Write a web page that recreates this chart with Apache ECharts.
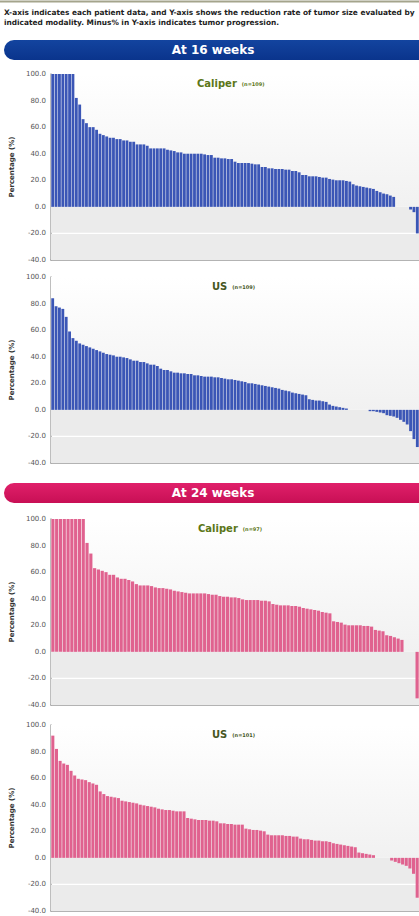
<!DOCTYPE html>
<html>
<head>
<meta charset="utf-8">
<script src="https://cdn.jsdelivr.net/npm/echarts@6/dist/echarts.min.js"></script>
<style>
  html, body { margin: 0; padding: 0; background: #fff; }
  #chart { width: 419px; height: 916px; }
</style>
</head>
<body>
<div id="chart"></div>
<script>
// reduction rate (%) per patient, sorted descending
const caliper16 = [100, 100, 100, 100, 100, 100, 100, 82, 77, 66, 63, 60, 60, 58, 55, 54, 53, 52, 52, 51,
  51, 50, 50, 49, 49, 47, 47, 47, 46, 44, 44, 44, 44, 44, 43, 42.5, 42, 41, 41, 40,
  40, 40, 40, 40, 40, 39.5, 39, 39, 37, 37, 36.5, 36.5, 36, 36, 34, 33, 33, 33, 33, 32.5,
  32, 32, 30, 30, 29, 29, 28.5, 28.5, 28.5, 28, 28, 27, 27, 26, 24, 24, 23, 23, 23, 22.5,
  22, 22, 21, 20.5, 20, 20, 20, 19.5, 19, 17, 16, 15.5, 15, 14.5, 14, 13.5, 12, 11, 10, 9.5,
  8.5, 7.5, 0, 0, 0, 0, -2, -4, -20]
const us16 = [84, 78, 77, 76, 70, 59, 54, 52, 50, 49, 48, 47, 46, 45, 44, 43, 42, 41.5, 41, 40,
  40, 39.5, 39, 38, 37, 37, 36, 36, 35, 34, 34, 33, 31, 30, 30, 29, 28, 28, 27.5, 27.5,
  27, 27, 26, 26, 25.5, 25, 25, 25, 24.5, 24.5, 24, 23.5, 23, 23, 22.5, 22, 21.5, 21, 20, 20,
  19.5, 19, 18.5, 18, 17.5, 17, 16.5, 16, 15, 14.5, 14, 13, 12.5, 12, 11.5, 11, 8, 7.5, 7, 7,
  6.5, 6, 4, 3, 2.5, 2, 1.5, 1, 0, 0, 0, 0, 0, 0, -1, -1, -1.5, -2, -2.5, -4,
  -4.5, -5, -6, -7.5, -9, -11, -16, -22, -28]
const caliper24 = [100, 100, 100, 100, 100, 100, 100, 100, 100, 82, 74, 63, 62, 61, 60, 58, 58, 56, 55, 55,
  54, 53, 51, 50, 50, 50, 49.5, 48.5, 48, 48, 47.5, 47, 46, 45.5, 45, 44.5, 44, 44, 44, 44,
  44, 43.5, 43, 43, 42, 41.5, 41.5, 41, 41, 40.5, 39.5, 39, 39, 39, 39, 38.5, 38.5, 38, 36, 35.5,
  35, 35, 35, 34.5, 34.5, 34, 33, 32.5, 32, 31.5, 31, 30, 29.5, 29, 23, 22.5, 22, 20.5, 20, 20,
  20, 20, 19.5, 19.5, 19, 16.5, 16, 15.5, 12.5, 12, 11, 10, 9, 0, 0, 0, -35]
const us24 = [92, 82, 73, 71, 70, 65.5, 62, 59.5, 59, 58.5, 57, 56, 55, 50, 48, 46.5, 46, 45.5, 45, 43,
  42.5, 42, 41.5, 41, 40, 39.5, 39, 38.5, 38, 37, 36.5, 36, 36, 35.5, 35, 35, 35, 30, 29.5, 29,
  28.5, 28.5, 28.5, 28, 28, 27.5, 26, 26, 25.5, 25.5, 25, 25, 25, 22, 21.5, 21, 21, 20.5, 20, 17.5,
  17, 17, 17, 17, 16.5, 16.5, 16, 16, 14.5, 14, 14, 13.5, 13, 13, 12.5, 12.5, 12, 11, 10.5, 10,
  9.5, 9, 8.5, 8, 4, 3.5, 3, 2.5, 2, 0, 0, 0, 0, -2, -3, -4, -5, -6, -8, -12,
  -30]

const panels = [
  { name: 'Caliper', n: '(n=109)', data: caliper16, color: '#3b56b6', top: 74, titleX: 197, nameColor: '#5b7618' },
  { name: 'US', n: '(n=109)', data: us16, color: '#3b56b6', top: 277, titleX: 212, nameColor: '#46561e' },
  { name: 'Caliper', n: '(n=97)', data: caliper24, color: '#e0628f', top: 519, titleX: 198, nameColor: '#5b7618' },
  { name: 'US', n: '(n=101)', data: us24, color: '#e0628f', top: 725, titleX: 212, nameColor: '#46561e' },
]
const PLOT_H = 186
const FONT = '"DejaVu Sans", Verdana, sans-serif'

const chart = echarts.init(document.getElementById('chart'), null, { renderer: 'svg' })

const grids = [], xAxes = [], yAxes = [], series = [], titles = []
panels.forEach((p, i) => {
  grids.push({ left: 51, right: 0, top: p.top, height: PLOT_H })
  xAxes.push({
    type: 'category',
    gridIndex: i,
    data: p.data.map((_, k) => k + 1),
    axisLine: { onZero: false, lineStyle: { color: '#9a9a9a', width: 1.5 } },
    axisTick: { show: false },
    axisLabel: { show: false },
  })
  yAxes.push({
    type: 'value',
    gridIndex: i,
    min: -40,
    max: 100,
    interval: 20,
    name: 'Percentage (%)',
    nameLocation: 'middle',
    nameGap: 36,
    nameTextStyle: { color: '#333', fontSize: 7, fontWeight: 'bold', fontFamily: FONT },
    axisLine: { show: true, lineStyle: { color: '#a8a8a8', width: 1.5 } },
    axisTick: { show: false },
    axisLabel: {
      color: '#555', fontSize: 7, fontFamily: FONT, margin: 5,
      formatter: v => v.toFixed(1),
    },
    splitLine: { show: false },
  })
  // background: grey below zero (with a pale break at -20), faint gradient above
  series.push({
    type: 'line',
    xAxisIndex: i,
    yAxisIndex: i,
    data: [],
    z: 1,
    silent: true,
    markArea: {
      silent: true,
      data: [
        [{ yAxis: -40, itemStyle: { color: '#ebebeb' } }, { yAxis: -20.5 }],
        [{ yAxis: -19.5, itemStyle: { color: '#ebebeb' } }, { yAxis: 0 }],
        [{
          yAxis: 0,
          itemStyle: {
            color: new echarts.graphic.LinearGradient(0, 0, 0, 1, [
              { offset: 0, color: '#ffffff' },
              { offset: 1, color: '#f1f1f1' },
            ]),
          },
        }, { yAxis: 100 }],
      ],
    },
  })
  series.push({
    type: 'bar',
    xAxisIndex: i,
    yAxisIndex: i,
    data: p.data,
    z: 3,
    barCategoryGap: '16%',
    itemStyle: { color: p.color },
  })
  titles.push({
    left: p.titleX,
    top: p.top,
    padding: 0,
    text: `{a|${p.name}} {b|${p.n}}`,
    textStyle: {
      rich: {
        a: { fontSize: 10, fontWeight: 'bold', color: p.nameColor, fontFamily: FONT },
        b: { fontSize: 5, color: p.nameColor, fontFamily: FONT, padding: [2, 0, 0, 0] },
      },
    },
  })
})

const banner = (y, text, c1, c2) => ({
  type: 'group',
  children: [
    {
      type: 'rect',
      shape: { x: 4, y: y, width: 440, height: 20, r: 10 },
      style: {
        fill: new echarts.graphic.LinearGradient(0, 0, 0, 1, [
          { offset: 0, color: c1 },
          { offset: 1, color: c2 },
        ]),
      },
    },
    {
      type: 'text',
      x: 213,
      y: y + 10,
      style: {
        text: text,
        fill: '#fff',
        font: `bold 12px ${FONT}`,
        align: 'center',
        verticalAlign: 'middle',
      },
    },
  ],
})

chart.setOption({
  animation: false,
  backgroundColor: '#fff',
  title: titles,
  grid: grids,
  xAxis: xAxes,
  yAxis: yAxes,
  series: series,
  graphic: [
    { type: 'line', shape: { x1: 0, y1: 1.5, x2: 419, y2: 1.5 }, style: { stroke: '#a4a48c', lineWidth: 2 } },
    {
      type: 'text', x: 4, y: 12,
      style: {
        text: 'X-axis indicates each patient data, and Y-axis shows the reduction rate of tumor size evaluated by',
        fill: '#222', font: `bold 7.4px ${FONT}`, verticalAlign: 'middle',
      },
    },
    {
      type: 'text', x: 4, y: 22,
      style: {
        text: 'indicated modality. Minus% in Y-axis indicates tumor progression.',
        fill: '#222', font: `bold 7.4px ${FONT}`, verticalAlign: 'middle',
      },
    },
    banner(40, 'At 16 weeks', '#13449f', '#0a348c'),
    banner(483, 'At 24 weeks', '#e0206a', '#c80f55'),
  ],
})
</script>
</body>
</html>
